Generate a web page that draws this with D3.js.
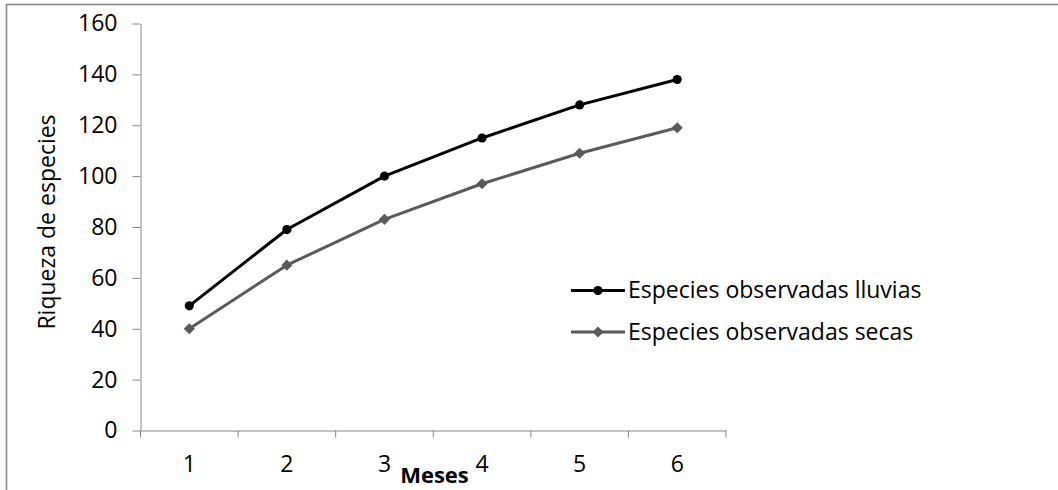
<!DOCTYPE html>
<html>
<head>
<meta charset="utf-8">
<script src="https://cdn.jsdelivr.net/npm/d3@7/dist/d3.min.js"></script>
<style>
  html, body { margin: 0; padding: 0; background: #fff; }
  svg { display: block; }
  text { font-family: "Open Sans", "Noto Sans", sans-serif; fill: #000; }
</style>
</head>
<body>
<svg id="chart" width="1058" height="490"></svg>
<script>
// Months (x categories)
const months = ["1", "2", "3", "4", "5", "6"];
// Observed species, rainy season
const lluvias = [49, 79, 100, 115, 128, 138];
// Observed species, dry season
const secas = [40, 65, 83, 97, 109, 119];
// Y-axis tick values
const yTicks = [0, 20, 40, 60, 80, 100, 120, 140, 160];

const seriesNames = ["Especies observadas lluvias", "Especies observadas secas"];

const FONT = 23;
const svg = d3.select("#chart");

// Outer chart frame (only left and top edges fall inside the view)
svg.append("rect")
  .attr("x", 6.5).attr("y", 4.5)
  .attr("width", 1100).attr("height", 600)
  .attr("fill", "none")
  .attr("stroke", "#8a8a8a")
  .attr("stroke-width", 1.6);

const x = d3.scaleBand().domain(months).range([140.5, 726]).padding(0);
const y = d3.scaleLinear().domain([0, 160]).range([430.5, 23.5]);

const axisColor = "#868686";

// Y axis
const yAxis = svg.append("g")
  .attr("transform", `translate(${x.range()[0]},0)`)
  .call(d3.axisLeft(y).tickValues(yTicks).tickSize(8).tickPadding(15).tickSizeOuter(0));
yAxis.select(".domain").attr("stroke", axisColor);
yAxis.selectAll(".tick line").attr("stroke", axisColor);
yAxis.selectAll(".tick text")
  .attr("font-size", FONT)
  .attr("font-family", "\"Open Sans\", sans-serif")
  .attr("fill", "#000");

// X axis: labels centred in each band, tick marks on band boundaries
const xAxis = svg.append("g")
  .attr("transform", `translate(0,${y(0)})`)
  .call(d3.axisBottom(x).tickSize(0).tickPadding(25).tickSizeOuter(0));
xAxis.select(".domain").attr("stroke", axisColor);
xAxis.selectAll(".tick text")
  .attr("font-size", FONT)
  .attr("font-family", "\"Open Sans\", sans-serif")
  .attr("fill", "#000");

const boundaries = months.map(m => x(m)).concat([x.range()[1]]);
svg.append("g").selectAll("line")
  .data(boundaries)
  .join("line")
  .attr("x1", d => d).attr("x2", d => d)
  .attr("y1", y(0)).attr("y2", y(0) + 7)
  .attr("stroke", axisColor);

// Axis titles
svg.append("text")
  .attr("transform", `translate(55,${(y(0) + y(160)) / 2 - 5}) rotate(-90)`)
  .attr("text-anchor", "middle")
  .attr("font-size", FONT)
  .text("Riqueza de especies");

svg.append("text")
  .attr("x", 434.5).attr("y", 483)
  .attr("text-anchor", "middle")
  .attr("font-size", 22)
  .attr("font-weight", "bold")
  .text("Meses");

const cx = m => x(m) + x.bandwidth() / 2;
const line = d3.line().x((d, i) => cx(months[i])).y(d => y(d));

const series = [
  { name: seriesNames[0], values: lluvias, color: "#000000", marker: "circle" },
  { name: seriesNames[1], values: secas, color: "#5a5a5a", marker: "diamond" }
];

// Circle for the rainy series, square turned 45° for the dry series
const markerPath = s => s.marker === "circle"
  ? d3.symbol().type(d3.symbolCircle).size(66)()
  : d3.symbol().type(d3.symbolSquare).size(62)();
const markerRot = s => s.marker === "circle" ? 0 : 45;

series.forEach(s => {
  svg.append("path")
    .datum(s.values)
    .attr("d", line)
    .attr("fill", "none")
    .attr("stroke", s.color)
    .attr("stroke-width", 3)
    .attr("stroke-linejoin", "round");
  svg.append("g").selectAll("path")
    .data(s.values)
    .join("path")
    .attr("transform", (d, i) => `translate(${cx(months[i])},${y(d)}) rotate(${markerRot(s)})`)
    .attr("d", markerPath(s))
    .attr("fill", s.color);
});

// Legend
const legend = svg.append("g");
series.forEach((s, i) => {
  const ly = 290.5 + i * 41.5;
  legend.append("line")
    .attr("x1", 571).attr("x2", 625)
    .attr("y1", ly).attr("y2", ly)
    .attr("stroke", s.color).attr("stroke-width", 3);
  legend.append("path")
    .attr("transform", `translate(598,${ly}) rotate(${markerRot(s)})`)
    .attr("d", markerPath(s))
    .attr("fill", s.color);
  legend.append("text")
    .attr("x", 628).attr("y", ly + 7.5)
    .attr("font-size", FONT)
    .text(s.name);
});
</script>
</body>
</html>
